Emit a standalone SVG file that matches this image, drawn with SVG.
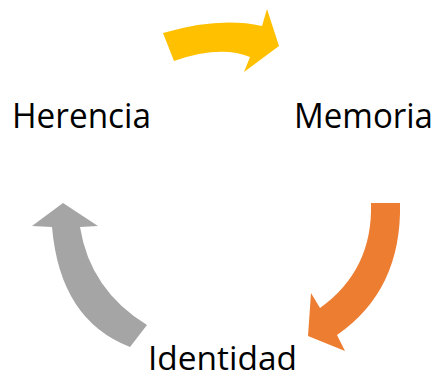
<svg xmlns="http://www.w3.org/2000/svg" width="441" height="378" viewBox="0 0 441 378">
<style>
.lbl{font-family:"Open Sans","Liberation Sans",sans-serif;font-size:34px;fill:#000}
</style>
<rect width="441" height="378" fill="#fff"/>
<g id="connectors">
<path id="arrow-herencia-memoria" d="M163,33 Q219.5,16.5 262,26 L267,9 L279,46 L244,72 L250,57 Q220,45 174,61 Z" fill="#FFC000"/>
<path id="arrow-memoria-identidad" d="M400,203 Q402,290 337,335 L345,351 L308,336 L311,293 L320,308 Q373,270 371,203 Z" fill="#ED7D31"/>
<path id="arrow-identidad-herencia" d="M147,325 Q90,290 80,227 L98,226 L63,203 L32,226 L52,227 Q60,320 130,347 Z" fill="#A5A5A5"/>
</g>
<g id="node-herencia"><text class="lbl" x="12" y="128" textLength="139" lengthAdjust="spacingAndGlyphs">Herencia</text></g>
<g id="node-memoria"><text class="lbl" x="294" y="128" textLength="139" lengthAdjust="spacingAndGlyphs">Memoria</text></g>
<g id="node-identidad"><text class="lbl" x="148" y="370" style="font-size:32px" textLength="149" lengthAdjust="spacingAndGlyphs">Identidad</text></g>
</svg>
